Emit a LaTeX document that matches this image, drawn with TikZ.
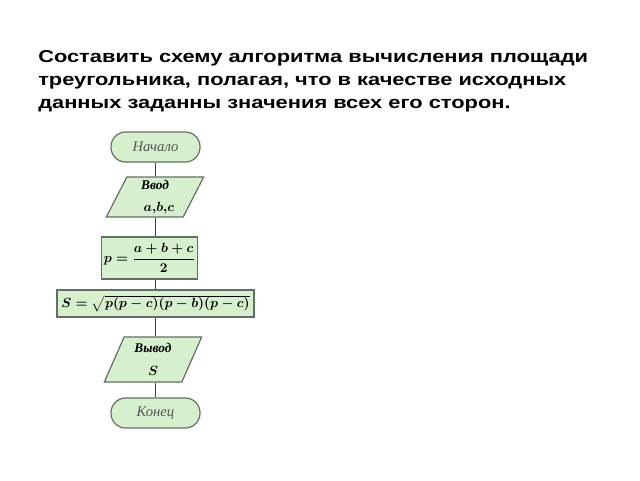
\documentclass[tikz,border=0pt]{standalone}
\usepackage{amsmath}
\usepackage{fontspec}
\setmainfont{Liberation Serif}
\newfontfamily\titlefont[FakeStretch=1.27]{Liberation Sans}
\usetikzlibrary{shapes.geometric}
\definecolor{blockfill}{RGB}{214,240,206}
\definecolor{blockline}{RGB}{100,110,100}
\definecolor{termtext}{RGB}{85,85,85}
\tikzset{
  block/.style={draw=blockline, fill=blockfill, line width=0.9pt, inner sep=2pt},
  termbox/.style={block, rounded corners=11pt, minimum width=66.75pt,
    minimum height=22.5pt, font=\itshape\fontsize{11}{13}\selectfont, text=termtext},
  iobox/.style={block, trapezium, trapezium left angle=62,
    trapezium right angle=118, trapezium stretches body,
    minimum width=73pt, align=center,
    font=\bfseries\itshape\fontsize{10}{15}\selectfont},
  procbox/.style={block, rectangle},
  titleline/.style={anchor=base west, inner sep=0pt,
    font=\titlefont\bfseries\fontsize{12.9}{15}\selectfont},
  link/.style={draw=black!75, line width=0.8pt}
}
\begin{document}
\boldmath
\begin{tikzpicture}[x=0.75pt,y=-0.75pt]
  \useasboundingbox (0,0) rectangle (640,480);
  % heading
  \node[titleline] (title1) at (38,62)
    {Составить схему алгоритма вычисления площади};
  \node[titleline] (title2) at (38,85)
    {треугольника, полагая, что в качестве исходных};
  \node[titleline] (title3) at (38,108)
    {данных заданны значения всех его сторон.};
  % blocks
  \node[termbox] (start) at (155.5,147) {Начало};
  \node[iobox, minimum height=30pt] (input) at (155,197)
    {Ввод\\[1pt]\hspace{6pt}$a{,}b{,}c$};
  \node[procbox, minimum width=71.25pt, minimum height=31.5pt] (calcp)
    at (149.5,258) {$p=\dfrac{a+b+c}{2}$};
  \node[procbox, minimum width=147.75pt, minimum height=20.25pt] (calcs)
    at (155.5,303.5) {$S=\sqrt{p(p-c)(p-b)(p-c)}$};
  \node[iobox, minimum height=33.75pt] (output) at (153,359.5)
    {Вывод\\[2pt]$S$};
  \node[termbox] (stop) at (155.5,413) {Конец};
  % links
  \draw[link] (start.south) -- (start.south |- input.north);
  \draw[link] (start.south |- input.south) -- (start.south |- calcp.north);
  \draw[link] (start.south |- calcp.south) -- (start.south |- calcs.north);
  \draw[link] (start.south |- calcs.south) -- (start.south |- output.north);
  \draw[link] (start.south |- output.south) -- (stop.north);
\end{tikzpicture}
\end{document}
